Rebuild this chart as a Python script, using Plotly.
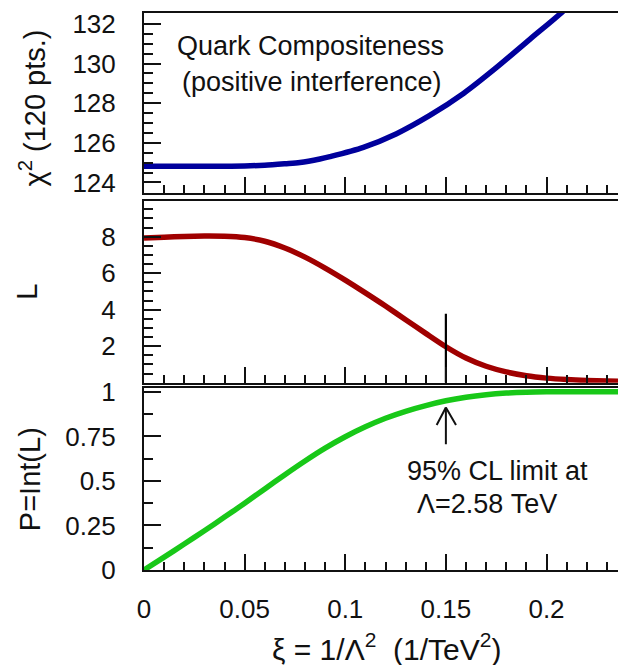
import plotly.graph_objects as go

# ---- data ----
xi_chi2 = [0.0, 0.02, 0.04, 0.05, 0.06, 0.07, 0.0775, 0.0874, 0.0924, 0.109, 0.1255, 0.142, 0.1589, 0.1752, 0.1917, 0.2067, 0.22]
chi2 = [124.82, 124.82, 124.82, 124.83, 124.87, 124.94, 125.0, 125.18, 125.3, 125.77, 126.46, 127.38, 128.5, 129.8, 131.22, 132.5, 133.8]

xi_L = [0.0, 0.01, 0.02, 0.03, 0.04, 0.05, 0.06, 0.07, 0.08, 0.09, 0.10, 0.11, 0.12, 0.13, 0.14, 0.15, 0.16, 0.17, 0.18, 0.19, 0.20, 0.21, 0.22, 0.23, 0.24]
L_vals = [7.93, 7.97, 8.01, 8.03, 8.02, 7.95, 7.75, 7.38, 6.88, 6.28, 5.62, 4.92, 4.20, 3.45, 2.70, 1.97, 1.35, 0.90, 0.59, 0.38, 0.25, 0.17, 0.12, 0.09, 0.07]

xi_P = [0.0, 0.01, 0.02, 0.03, 0.04, 0.05, 0.06, 0.07, 0.08, 0.09, 0.10, 0.11, 0.12, 0.13, 0.14, 0.15, 0.16, 0.17, 0.18, 0.19, 0.20, 0.22, 0.24]
P_vals = [0.0, 0.072, 0.146, 0.220, 0.297, 0.375, 0.455, 0.535, 0.612, 0.684, 0.748, 0.804, 0.852, 0.891, 0.923, 0.950, 0.970, 0.984, 0.993, 0.998, 1.0, 1.0, 1.0]

limit_xi = 0.15
limit_line_L = [0.0, 3.78]
arrow_P = [0.698, 0.912]   # tail, tip

x_ticks = [0, 0.05, 0.1, 0.15, 0.2]
x_ticktext = ["0", "0.05", "0.1", "0.15", "0.2"]
chi2_ticks = [124, 126, 128, 130, 132]
L_ticks = [2, 4, 6, 8]
P_ticks = [0, 0.25, 0.5, 0.75, 1]
P_ticktext = ["0", "0.25", "0.5", "0.75", "1"]

FONT = "Liberation Sans, Arial, Helvetica, sans-serif"
INK = "#111111"

fig = go.Figure()
fig.add_trace(go.Scatter(x=xi_chi2, y=chi2, mode="lines", line=dict(color="#00009c", width=5.5, shape="spline", smoothing=0.8),
                         xaxis="x3", yaxis="y3", showlegend=False))
fig.add_trace(go.Scatter(x=xi_L, y=L_vals, mode="lines", line=dict(color="#a00000", width=5.5, shape="spline", smoothing=0.8),
                         xaxis="x2", yaxis="y2", showlegend=False))
fig.add_trace(go.Scatter(x=[limit_xi, limit_xi], y=limit_line_L, mode="lines", line=dict(color="#000000", width=2.2),
                         xaxis="x2", yaxis="y2", showlegend=False))
fig.add_trace(go.Scatter(x=xi_P, y=P_vals, mode="lines", line=dict(color="#18c818", width=5.5, shape="spline", smoothing=0.8),
                         xaxis="x", yaxis="y", showlegend=False))

xr = [0, 0.2395]

def xax(anchor, labels):
    return dict(range=xr, anchor=anchor, showline=True, linecolor=INK, linewidth=2, mirror=True,
                ticks="inside", ticklen=16, tickwidth=1.5, tickcolor=INK,
                tickmode="array", tickvals=x_ticks, ticktext=x_ticktext, showticklabels=labels,
                minor=dict(ticks="inside", ticklen=8, tickwidth=1.5, tickcolor=INK, dtick=0.01, tick0=0, showgrid=False),
                showgrid=False, zeroline=False, tickfont=dict(family=FONT, size=26, color=INK),
                ticklabelstandoff=15, automargin=False)

def yax(domain, rng, tv, tt, mdt):
    return dict(domain=domain, range=rng, anchor="x", showline=True, linecolor=INK, linewidth=2, mirror=False,
                ticks="inside", ticklen=17, tickwidth=1.5, tickcolor=INK,
                tickmode="array", tickvals=tv, ticktext=tt,
                minor=dict(ticks="inside", ticklen=9, tickwidth=1.5, tickcolor=INK, dtick=mdt, tick0=0, showgrid=False),
                showgrid=False, zeroline=False, tickfont=dict(family=FONT, size=26, color=INK),
                ticklabelstandoff=21, automargin=False)

# the page body has an 8px margin, so the figure is laid out 8px smaller and shifted
fig.update_layout(
    width=618, height=657,
    margin=dict(l=136, r=0, t=5, b=95, autoexpand=False),
    paper_bgcolor="white", plot_bgcolor="white",
    xaxis=xax("y", True),
    xaxis2=dict(xax("y2", False), matches="x"),
    xaxis3=dict(xax("y3", False), matches="x"),
    yaxis=yax([0.0, 0.3262], [0, 1.02], P_ticks, P_ticktext, 0.125),
    yaxis2=dict(yax([0.3363, 0.6630], [0, 9.97], L_ticks, [str(v) for v in L_ticks], 0.5), anchor="x2"),
    yaxis3=dict(yax([0.6763, 1.0], [123.45, 132.55], chi2_ticks, [str(v) for v in chi2_ticks], 0.5), anchor="x3"),
    font=dict(family=FONT, color=INK),
)

ann = []
# y-axis titles
ann.append(dict(text="χ<sup>2</sup> (120 pts.)", xref="paper", yref="y3 domain", x=(32 - 144) / 482, y=0.47,
                textangle=-90, showarrow=False, font=dict(size=29, family=FONT, color=INK), xanchor="center", yanchor="middle"))
ann.append(dict(text="L", xref="paper", yref="y2 domain", x=(27 - 144) / 482, y=0.5,
                textangle=-90, showarrow=False, font=dict(size=29, family=FONT, color=INK), xanchor="center", yanchor="middle"))
ann.append(dict(text="P=Int(L)", xref="paper", yref="y domain", x=(30 - 144) / 482, y=0.5,
                textangle=-90, showarrow=False, font=dict(size=29, family=FONT, color=INK), xanchor="center", yanchor="middle"))
# x title
ann.append(dict(text="ξ = 1/Λ<sup>2</sup>\u00a0\u00a0(1/TeV<sup>2</sup>)", xref="paper", yref="paper",
                x=(386 - 144) / 482, y=-(647 - 570) / 557, showarrow=False,
                font=dict(size=30, family=FONT, color=INK), xanchor="center", yanchor="middle"))
# panel texts
ann.append(dict(text="Quark Compositeness", xref="x3", yref="y3", x=0.0825, y=130.9, showarrow=False,
                font=dict(size=27, family=FONT, color=INK), xanchor="center", yanchor="middle"))
ann.append(dict(text="(positive interference)", xref="x3", yref="y3", x=0.0835, y=129.07, showarrow=False,
                font=dict(size=27, family=FONT, color=INK), xanchor="center", yanchor="middle"))
ann.append(dict(text="95% CL limit at", xref="x", yref="y", x=0.1754, y=0.557, showarrow=False,
                font=dict(size=27, family=FONT, color=INK), xanchor="center", yanchor="middle"))
ann.append(dict(text="Λ=2.58 TeV", xref="x", yref="y", x=0.1704, y=0.370, showarrow=False,
                font=dict(size=27, family=FONT, color=INK), xanchor="center", yanchor="middle"))
# arrow: shaft plus two thin barbs
ann.append(dict(text="", xref="x", yref="y", x=limit_xi, y=arrow_P[1], axref="x", ayref="y", ax=limit_xi, ay=arrow_P[0],
                showarrow=True, arrowhead=0, arrowwidth=2, arrowcolor=INK))
for dx in (-10, 11):
    ann.append(dict(text="", xref="x", yref="y", x=limit_xi, y=arrow_P[1], ax=dx, ay=19,
                    showarrow=True, arrowhead=0, arrowwidth=2, arrowcolor=INK))
fig.update_layout(annotations=ann)

fig.write_html("out.html")
